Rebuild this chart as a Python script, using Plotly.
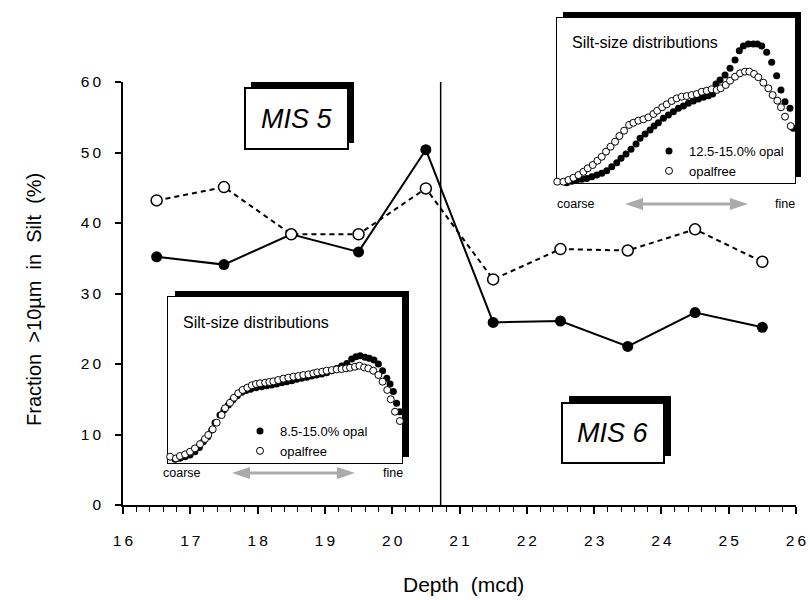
import plotly.graph_objects as go

# ---------------- data ----------------
depth = [16.5, 17.5, 18.5, 19.5, 20.5, 21.5, 22.5, 23.5, 24.5, 25.5]
opal_frac = [35.2, 34.1, 38.4, 35.9, 50.4, 25.9, 26.1, 22.5, 27.3, 25.2]
opalfree_frac = [43.2, 45.1, 38.4, 38.4, 44.9, 32.0, 36.3, 36.1, 39.1, 34.5]
boundary_depth = 20.72

x_ticks = [16, 17, 18, 19, 20, 21, 22, 23, 24, 25, 26]
y_ticks = [0, 10, 20, 30, 40, 50, 60]

# inset 1 (MIS 5) silt-size distributions (relative units, coarse -> fine)
in1_opal_x = [3.0, 5.1, 7.3, 9.4, 11.5, 13.4, 15.1, 17.0, 18.7, 20.1, 22.2, 23.9, 25.8, 27.6,
              29.6, 31.5, 33.3, 35.3, 37.6, 40.0, 42.2, 44.3, 46.4, 48.6, 50.7, 52.9, 55.0,
              57.1, 59.3, 61.4, 63.5, 65.7, 67.8, 70.0, 72.1, 74.2, 76.4, 78.5, 80.3, 82.1,
              84.2, 86.0, 88.0, 89.9, 91.7, 93.5, 94.9, 96.3, 97.7, 99.1, 100.6]
in1_opal_y = [2.2, 2.8, 3.8, 4.8, 6.8, 9.4, 12.8, 15.8, 19.9, 24.3, 28.9, 31.9, 34.9, 38.0,
              40.5, 42.6, 43.6, 44.4, 45.4, 46.0, 46.6, 47.0, 47.6, 48.4, 49.0, 49.6, 50.4,
              51.0, 51.6, 52.4, 53.0, 53.6, 54.4, 55.6, 57.0, 58.4, 60.0, 62.7, 64.0, 64.6,
              63.7, 63.1, 62.0, 59.6, 55.6, 51.0, 47.6, 43.0, 36.0, 30.9, 25.9]
in1_free_x = [0.9, 3.4, 5.1, 7.3, 9.4, 11.5, 13.7, 15.8, 17.2, 19.1, 20.8, 22.9, 24.4, 26.5,
              28.2, 30.0, 31.9, 33.9, 35.8, 37.6, 39.3, 41.5, 43.3, 45.0, 47.1, 49.3, 51.4,
              53.6, 55.7, 57.8, 60.0, 62.1, 63.8, 65.9, 67.8, 70.0, 72.1, 74.2, 76.1, 77.8,
              79.9, 81.8, 83.8, 85.6, 87.7, 89.9, 91.7, 93.7, 95.2, 97.0, 99.1]
in1_free_y = [3.8, 2.8, 4.2, 5.2, 6.8, 8.8, 11.4, 14.5, 16.9, 20.3, 24.3, 28.9, 33.0, 36.3,
              39.3, 42.0, 44.0, 45.4, 46.8, 47.6, 48.0, 48.4, 48.8, 49.2, 50.0, 50.8, 51.4,
              52.0, 52.4, 53.0, 53.4, 54.0, 54.6, 55.0, 55.6, 56.0, 56.4, 56.6, 57.0, 57.4,
              58.0, 58.6, 57.6, 57.0, 55.6, 53.0, 49.0, 44.0, 38.4, 30.9, 25.3]

# inset 2 (MIS 6)
in2_opal_x = [-0.1, 2.0, 4.1, 6.2, 8.3, 10.4, 12.5, 14.6, 16.7, 18.8, 20.9, 23.0, 25.1, 26.9,
              29.0, 31.1, 33.2, 34.9, 37.0, 39.1, 40.8, 42.6, 44.7, 46.8, 48.9, 51.0, 53.1,
              55.2, 57.3, 59.4, 61.5, 63.6, 65.4, 66.8, 68.5, 70.6, 72.7, 74.8, 76.6, 78.3,
              80.4, 82.5, 84.2, 86.0, 88.1, 90.2, 92.3, 94.1, 95.8, 97.9, 99.3]
in2_opal_y = [-1.2, -0.6, 0.2, 1.0, 1.8, 2.2, 2.8, 3.8, 4.8, 5.9, 7.5, 9.9, 12.3, 15.0,
              17.6, 20.4, 23.6, 27.1, 29.7, 32.1, 34.5, 36.5, 39.2, 41.2, 43.2, 45.3, 46.7,
              48.3, 49.7, 50.9, 51.9, 52.9, 53.9, 60.0, 62.4, 65.5, 69.5, 74.5, 80.2, 83.0,
              84.2, 84.2, 84.2, 83.0, 79.2, 73.2, 65.0, 56.4, 49.3, 45.3, 33.2]
in2_free_x = [0.1, 2.7, 4.8, 6.9, 9.0, 11.1, 12.9, 15.0, 17.0, 18.8, 20.6, 22.5, 24.4, 26.2,
              28.2, 30.3, 32.1, 34.2, 36.3, 38.4, 40.5, 42.1, 44.2, 46.1, 48.2, 50.3, 52.4,
              54.5, 56.6, 58.7, 60.8, 62.9, 65.0, 67.1, 68.8, 70.9, 72.7, 74.8, 76.9, 79.0,
              80.8, 82.8, 84.6, 86.7, 88.8, 90.6, 92.6, 94.1, 95.8, 98.2]
in2_free_y = [0.8, 0.8, 1.8, 3.2, 4.8, 6.8, 8.9, 10.9, 13.5, 15.9, 19.0, 22.0, 25.0, 28.5,
              31.7, 35.2, 36.5, 37.8, 38.6, 39.8, 41.8, 43.8, 45.9, 47.7, 49.7, 51.3, 52.3,
              52.7, 53.3, 53.9, 55.3, 55.9, 56.8, 56.4, 57.4, 59.4, 62.0, 64.4, 66.5, 67.5,
              67.5, 66.1, 64.1, 60.8, 57.4, 53.3, 49.9, 45.9, 40.2, 34.5]

# ---------------- layout helpers (pixel -> paper) ----------------
W, H = 810, 600
ML, MR, MT, MB = 123, 9, 10, 95
PW = W - ML - MR
PH = H - MT - MB


def px(x):
    return (x - ML) / PW


def py(y):
    return (H - MB - y) / PH


FONT = "Liberation Sans, Arial, Helvetica, sans-serif"
thin = "\u2009"

fig = go.Figure()

# main series
fig.add_trace(go.Scatter(x=depth, y=opal_frac, mode="lines+markers",
                         line=dict(color="black", width=2),
                         marker=dict(color="black", size=11),
                         showlegend=False, cliponaxis=False))
fig.add_trace(go.Scatter(x=depth, y=opalfree_frac, mode="lines+markers",
                         line=dict(color="black", width=2, dash="5px,4px"),
                         marker=dict(color="white", size=11, line=dict(color="black", width=1.5)),
                         showlegend=False, cliponaxis=False))

# inset traces
fig.add_trace(go.Scatter(x=in1_opal_x, y=in1_opal_y, mode="markers", xaxis="x2", yaxis="y2",
                         name="8.5-15.0% opal", legend="legend2",
                         marker=dict(color="black", size=7), cliponaxis=False))
fig.add_trace(go.Scatter(x=in1_free_x, y=in1_free_y, mode="markers", xaxis="x2", yaxis="y2",
                         name="opalfree", legend="legend2",
                         marker=dict(color="white", size=7, line=dict(color="black", width=1)),
                         cliponaxis=False))
fig.add_trace(go.Scatter(x=in2_opal_x, y=in2_opal_y, mode="markers", xaxis="x3", yaxis="y3",
                         name="12.5-15.0% opal", legend="legend3",
                         marker=dict(color="black", size=7), cliponaxis=False))
fig.add_trace(go.Scatter(x=in2_free_x, y=in2_free_y, mode="markers", xaxis="x3", yaxis="y3",
                         name="opalfree", legend="legend3",
                         marker=dict(color="white", size=7, line=dict(color="black", width=1)),
                         cliponaxis=False))

shapes = []


def rect(x0, y0, x1, y1, fill, line_w=0):
    shapes.append(dict(type="rect", xref="paper", yref="paper",
                       x0=px(x0), x1=px(x1), y0=py(y1), y1=py(y0),
                       fillcolor=fill, line=dict(color="black", width=line_w),
                       layer="below"))


def shadow_box(x0, y0, x1, y1, dx, dy):
    rect(x0 + dx, y0 - dy, x1 + dx, y1 - dy, "black", 0)
    rect(x0, y0, x1, y1, "white", 2)


shadow_box(168, 297, 402, 463, 7, 6)
shadow_box(557, 18, 795, 183, 6, 6)
shadow_box(245, 88, 348, 149, 6, 6)
shadow_box(562, 403, 664, 463, 7, 7)


def arrow(x0, x1, y, hl=18, hh=6, sw=3.2):
    pts = [(x0, y), (x0 + hl, y - hh), (x0 + hl, y - sw / 2), (x1 - hl, y - sw / 2),
           (x1 - hl, y - hh), (x1, y), (x1 - hl, y + hh), (x1 - hl, y + sw / 2),
           (x0 + hl, y + sw / 2), (x0 + hl, y + hh)]
    path = "M " + " L ".join(f"{px(a):.5f},{py(b):.5f}" for a, b in pts) + " Z"
    shapes.append(dict(type="path", xref="paper", yref="paper", path=path,
                       fillcolor="#aaaaaa", line=dict(width=0), layer="above"))


arrow(232, 355, 473)
arrow(625, 748, 204)

# boundary line
shapes.append(dict(type="line", xref="x", yref="y", x0=boundary_depth, x1=boundary_depth,
                   y0=0, y1=60.7, line=dict(color="black", width=1.5), layer="above"))

annotations = []


def txt(x, y, s, size, anchor="left", **kw):
    annotations.append(dict(xref="paper", yref="paper", x=px(x), y=py(y), text=s,
                            showarrow=False, xanchor=anchor, yanchor="middle",
                            font=dict(family=FONT, size=size, color="black"), **kw))


txt(296.5, 119, "<i>MIS 5</i>", 27, "center")
txt(613, 433, "<i>MIS 6</i>", 27, "center")
txt(181, 322, "Silt-size distributions", 16)
txt(570, 43, "Silt-size distributions", 16)
txt(161, 473, "coarse", 12.5)
txt(405, 473, "fine", 12.5, "right")
txt(555, 204, "coarse", 12.5)
txt(797, 204, "fine", 12.5, "right")
# axis titles
txt(463, 584, "Depth\u00a0 (mcd)", 21, "center")
txt(34, 300, "Fraction\u00a0 >10µm\u00a0 in\u00a0 Silt\u00a0 (%)", 20, "center", textangle=-90)

fig.update_layout(
    width=W, height=H,
    margin=dict(l=ML, r=MR, t=MT, b=MB, autoexpand=False),
    paper_bgcolor="white", plot_bgcolor="white",
    font=dict(family=FONT, size=15, color="black"),
    shapes=shapes, annotations=annotations,
    xaxis=dict(range=[16, 26], domain=[0, px(796)], anchor="y", automargin=False,
               tickvals=x_ticks, ticktext=[thin.join(str(v)) for v in x_ticks],
               ticks="outside", ticklen=7, tickwidth=1.5, tickcolor="black",
               minor=dict(dtick=0.2, ticks="outside", ticklen=5, tickwidth=1.2, tickcolor="black"),
               showline=True, linecolor="black", linewidth=1.5, showgrid=False, zeroline=False,
               tickfont=dict(size=15.5), ticklabelstandoff=14),
    xaxis4=dict(range=[16, 26], domain=[0, px(796)], anchor="y", overlaying="x",
                automargin=False,
                tickvals=x_ticks, ticks="inside", ticklen=6, tickwidth=1.5, tickcolor="black",
                showticklabels=False, showline=False, showgrid=False, zeroline=False),
    yaxis=dict(range=[0, 60], domain=[0, py(82)], anchor="x", automargin=False,
               tickvals=y_ticks, ticktext=[thin.join(str(v)) for v in y_ticks],
               ticks="outside", ticklen=6, tickwidth=1.5, tickcolor="black",
               showline=True, linecolor="black", linewidth=1.5, showgrid=False, zeroline=False,
               tickfont=dict(size=15.5), ticklabelstandoff=11),
    xaxis2=dict(domain=[px(168), px(402)], range=[0, 100], anchor="y2", visible=False),
    yaxis2=dict(domain=[py(463), py(297)], range=[0, 100], anchor="x2", visible=False),
    xaxis3=dict(domain=[px(557), px(795)], range=[0, 100], anchor="y3", visible=False),
    yaxis3=dict(domain=[py(183), py(18)], range=[0, 100], anchor="x3", visible=False),
    legend2=dict(x=px(240), y=py(416), xanchor="left", yanchor="top",
                 bgcolor="rgba(0,0,0,0)", borderwidth=0, font=dict(size=13),
                 tracegroupgap=0, itemsizing="trace"),
    legend3=dict(x=px(649), y=py(136), xanchor="left", yanchor="top",
                 bgcolor="rgba(0,0,0,0)", borderwidth=0, font=dict(size=13),
                 tracegroupgap=0, itemsizing="trace"),
)

fig.write_html("out.html", config={"displayModeBar": False},
               post_script="document.body.style.margin='0px';document.body.style.overflow='hidden';")
